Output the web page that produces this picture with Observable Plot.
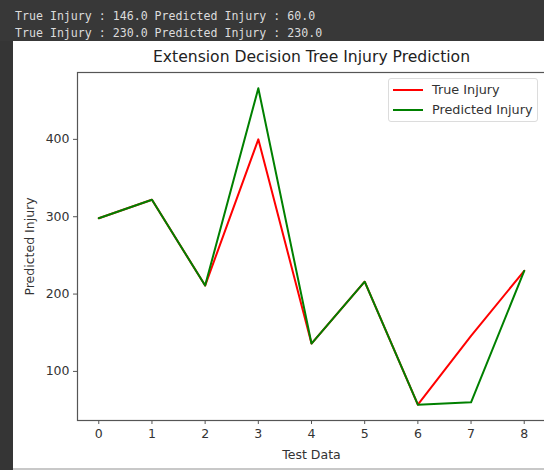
<!DOCTYPE html>
<html>
<head>
<meta charset="utf-8">
<script src="https://cdn.jsdelivr.net/npm/d3@7"></script>
<script src="https://cdn.jsdelivr.net/npm/@observablehq/plot@0.6"></script>
<style>
  html, body { margin: 0; padding: 0; width: 544px; height: 470px; overflow: hidden; background: #353535; }
  #header { position: absolute; left: 0; top: 0; width: 544px; height: 41px; background: #383838;
            font-family: "DejaVu Sans Mono", monospace; font-size: 11.6px; color: #dcdcdc; line-height: 17px; }
  #header div { position: absolute; left: 15px; white-space: pre; }
  #panel { position: absolute; left: 13px; top: 41px; width: 531px; height: 427px; background: #fff; overflow: hidden; }
  #panel svg { position: absolute; left: 1px; top: 0; max-width: none !important; }
  #bottom { position: absolute; left: 13px; top: 468px; width: 531px; height: 2px; background: #c8c8c8; }
  #legend { position: absolute; left: 375px; top: 37px; width: 148px; height: 42px; border: 1px solid #dcdcdc;
            border-radius: 3px; background: #fff; font-family: "DejaVu Sans", sans-serif; font-size: 12.8px; color: #333; }
  .item { position: absolute; left: 4px; height: 16px; }
  .swatch { position: absolute; left: 0; top: 7px; width: 30px; height: 2px; }
  .lab { position: absolute; left: 39px; top: 0px; white-space: nowrap; line-height: 16px; }
</style>
</head>
<body>
<div id="header"></div>
<div id="panel"></div>
<div id="bottom"></div>
<script>
const consoleLines = [
  "True Injury : 146.0 Predicted Injury : 60.0",
  "True Injury : 230.0 Predicted Injury : 230.0"
];
const testIndex = [0, 1, 2, 3, 4, 5, 6, 7, 8];
const trueInjury = [298, 322, 211, 400, 136, 216, 57, 146, 230];
const predictedInjury = [298, 322, 211, 466, 136, 216, 57, 60, 230];
const xTicks = [0, 1, 2, 3, 4, 5, 6, 7, 8];
const yTicks = [100, 200, 300, 400];
const seriesNames = ["True Injury", "Predicted Injury"];
const seriesColors = ["#ff0000", "#008000"];
const title = "Extension Decision Tree Injury Prediction";

const header = document.getElementById("header");
consoleLines.forEach((t, i) => {
  const d = document.createElement("div");
  d.textContent = t;
  d.style.top = (8 + i * 17) + "px";
  header.appendChild(d);
});

const rows = [];
testIndex.forEach((x, i) => {
  rows.push({x, y: trueInjury[i], s: seriesNames[0]});
});
testIndex.forEach((x, i) => {
  rows.push({x, y: predictedInjury[i], s: seriesNames[1]});
});

const all = trueInjury.concat(predictedInjury);
const lo = d3.min(all), hi = d3.max(all), pad = (hi - lo) * 0.05;
const xlo = d3.min(testIndex), xhi = d3.max(testIndex), xpad = (xhi - xlo) * 0.05;

const chart = Plot.plot({
  width: 540,
  height: 427,
  marginLeft: 63,
  marginRight: 9,
  marginTop: 31,
  marginBottom: 48,
  style: {fontFamily: "DejaVu Sans, sans-serif", fontSize: "12.5px", color: "#333", background: "transparent", overflow: "visible"},
  x: {domain: [xlo - xpad, xhi + xpad]},
  y: {domain: [lo - pad, hi + pad]},
  color: {domain: seriesNames, range: seriesColors},
  marks: [
    Plot.axisX({ticks: xTicks, tickSize: 4, tickPadding: 5, tickFormat: d3.format("d"), label: "Test Data", labelAnchor: "center", labelArrow: false, labelOffset: 38, stroke: "#555"}),
    Plot.axisY({ticks: yTicks, tickSize: 4, tickPadding: 4, tickFormat: d3.format("d"), label: "Predicted Injury", labelAnchor: "center", labelArrow: false, labelOffset: 52, stroke: "#555"}),
    Plot.frame({stroke: "#555", strokeWidth: 1.2}),
    Plot.line(rows, {x: "x", y: "y", z: "s", stroke: "s", strokeWidth: 2}),
    Plot.text([title], {frameAnchor: "top", dy: -22, fontSize: 15.6, fill: "#222"})
  ]
});
chart.style.maxWidth = "none";
document.getElementById("panel").appendChild(chart);

const legend = document.createElement("div");
legend.id = "legend";
seriesNames.forEach((n, i) => {
  const it = document.createElement("div");
  it.className = "item";
  it.style.top = (3 + i * 20) + "px";
  const sw = document.createElement("div");
  sw.className = "swatch";
  sw.style.background = seriesColors[i];
  const lb = document.createElement("div");
  lb.className = "lab";
  lb.textContent = n;
  it.appendChild(sw); it.appendChild(lb);
  legend.appendChild(it);
});
document.getElementById("panel").appendChild(legend);
</script>
</body>
</html>
